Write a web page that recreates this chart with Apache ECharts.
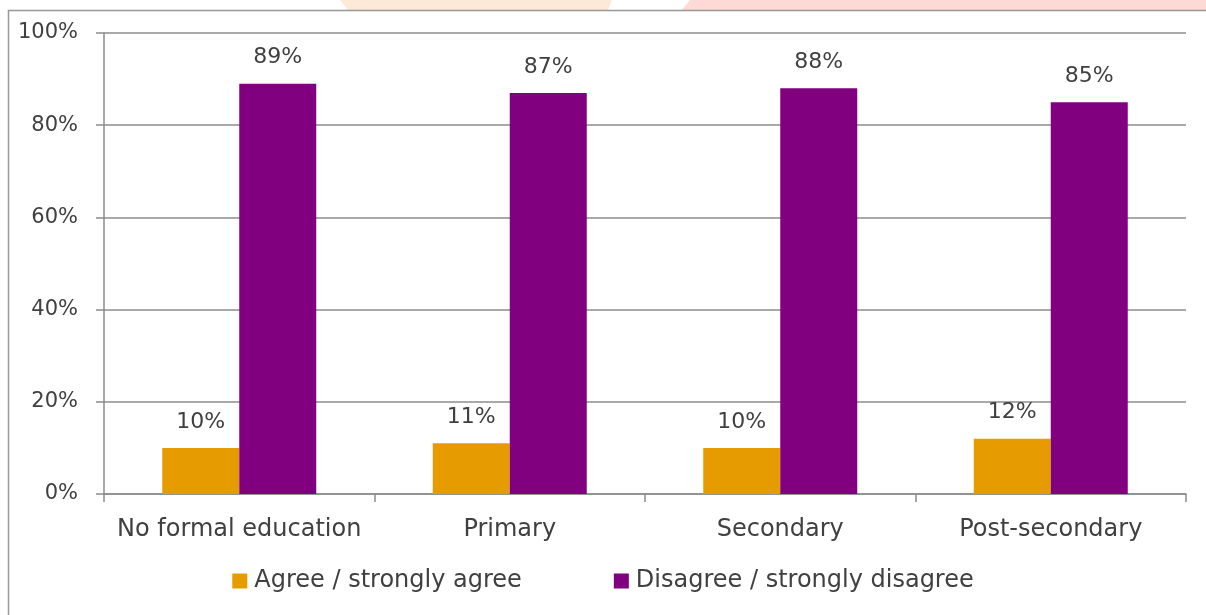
<!DOCTYPE html>
<html>
<head>
<meta charset="utf-8">
<style>
  html, body { margin: 0; padding: 0; background: #ffffff; }
  #chart { width: 1206px; height: 615px; }
</style>
<script src="https://cdn.jsdelivr.net/npm/echarts@6/dist/echarts.min.js"></script>
</head>
<body>
<div id="chart"></div>
<script>
// Education level categories and share of responses (%)
const categories = ['No formal education', 'Primary', 'Secondary', 'Post-secondary'];
const agreeValues = [10, 11, 10, 12];
const disagreeValues = [89, 87, 88, 85];
const seriesNames = ['Agree / strongly agree', 'Disagree / strongly disagree'];
const yTicks = [0, 20, 40, 60, 80, 100];

const FONT = '"DejaVu Sans", sans-serif';
const TEXT = '#404040';
const LINE = '#8c8c8c';

const chart = echarts.init(document.getElementById('chart'), null, { renderer: 'canvas' });

chart.setOption({
  backgroundColor: '#ffffff',
  animation: false,
  textStyle: { fontFamily: FONT, color: TEXT },
  graphic: [
    // faint decorative shapes peeking above the frame
    { type: 'polygon', z: -10, shape: { points: [[340, 0], [612, 0], [608, 10], [348, 10]] }, style: { fill: '#fde9d8' } },
    { type: 'polygon', z: -10, shape: { points: [[690, 0], [1206, 0], [1206, 10], [682, 10]] }, style: { fill: '#fddad5' } },
    { type: 'rect', z: -5, shape: { x: 8.5, y: 10.5, width: 1210, height: 620 }, style: { fill: '#ffffff', stroke: '#999999', lineWidth: 1.5 } }
  ],
  grid: { left: 104, right: 20, top: 33, bottom: 121, containLabel: false },
  legend: {
    data: seriesNames,
    bottom: 17,
    left: 'center',
    itemWidth: 15,
    itemHeight: 15,
    itemGap: 92,
    icon: 'rect',
    textStyle: { fontFamily: FONT, fontSize: 24, color: TEXT, padding: [0, 0, 0, 2] }
  },
  xAxis: {
    type: 'category',
    data: categories,
    axisLine: { show: true, lineStyle: { color: LINE, width: 1.5 } },
    axisTick: { show: true, length: 8, lineStyle: { color: LINE, width: 1.5 } },
    axisLabel: { interval: 0, fontFamily: FONT, fontSize: 24, color: TEXT, margin: 24 }
  },
  yAxis: {
    type: 'value',
    min: 0,
    max: 100,
    interval: 20,
    axisLine: { show: true, lineStyle: { color: LINE, width: 1.5 } },
    axisTick: { show: true, length: 8, lineStyle: { color: LINE, width: 1.5 } },
    splitLine: { show: true, lineStyle: { color: LINE, width: 1.5 } },
    axisLabel: {
      fontFamily: FONT, fontSize: 21, color: TEXT, margin: 26,
      formatter: v => (yTicks.includes(v) ? v + '%' : '')
    }
  },
  series: [
    {
      name: seriesNames[0],
      type: 'bar',
      data: agreeValues,
      barWidth: 77,
      barGap: '0%',
      itemStyle: { color: '#e69b00' },
      label: { show: true, position: 'top', distance: 15, fontFamily: FONT, fontSize: 22, color: TEXT, formatter: p => p.value + '%' }
    },
    {
      name: seriesNames[1],
      type: 'bar',
      data: disagreeValues,
      barWidth: 77,
      barGap: '0%',
      itemStyle: { color: '#800080' },
      label: { show: true, position: 'top', distance: 15, fontFamily: FONT, fontSize: 22, color: TEXT, formatter: p => p.value + '%' }
    }
  ]
});
</script>
</body>
</html>
